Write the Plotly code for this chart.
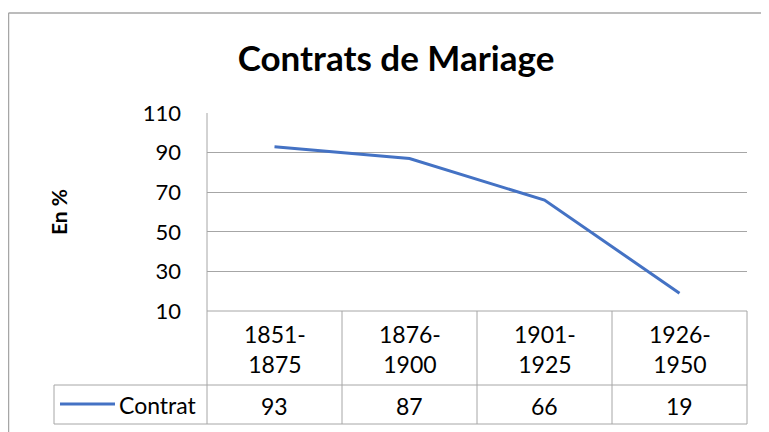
import plotly.graph_objects as go

categories = ["1851-1875", "1876-1900", "1901-1925", "1926-1950"]
category_labels = ["1851-<br>1875", "1876-<br>1900", "1901-<br>1925", "1926-<br>1950"]
contrat = [93, 87, 66, 19]
series_name = "Contrat"
y_ticks = [10, 30, 50, 70, 90, 110]

# the page body has an 8px margin: lay the figure out in page pixels and shift
OFF = 8
W, H = 769 - OFF, 432 - OFF
FONT = "Lato"
GRID = "#A6A6A6"
BORDER = "#A6A6A6"
BLUE = "#4472C4"

def px(x):
    return (x - OFF) / W

def py(y):
    return 1 - (y - OFF) / H

# plot area in page pixels
L, R, T, B = 207, 747, 113, 311
ROW1 = 385
ROW2 = 424
LEG_L = 54

fig = go.Figure()
fig.add_trace(go.Scatter(
    x=list(range(len(categories))), y=contrat, mode="lines",
    name=series_name, line=dict(color=BLUE, width=3),
    showlegend=False, hoverinfo="skip"))

fig.update_layout(
    width=W, height=H,
    margin=dict(l=0, r=0, t=0, b=0, autoexpand=False),
    paper_bgcolor="white", plot_bgcolor="white",
    font=dict(family=FONT, color="#000000"),
    title=dict(text="<b>Contrats de Mariage</b>", x=px(396), xanchor="center",
               y=py(59), yanchor="middle", font=dict(size=35, family=FONT, color="#000")),
    xaxis=dict(domain=[px(L), px(R)], range=[-0.5, len(categories) - 0.5],
               showticklabels=False, showgrid=False, zeroline=False, showline=False,
               fixedrange=True, automargin=False),
    yaxis=dict(domain=[py(B), py(T)], range=[10, 110], tickvals=y_ticks,
               showgrid=True, gridcolor=GRID, gridwidth=1, zeroline=False,
               showline=False, ticks="", ticklabelstandoff=25, automargin=False,
               tickfont=dict(size=22, family=FONT, color="#000")),
)

shapes = []
def line(x0, y0, x1, y1, color=GRID, width=1):
    shapes.append(dict(type="line", xref="paper", yref="paper",
                       x0=px(x0), y0=py(y0), x1=px(x1), y1=py(y1),
                       line=dict(color=color, width=width)))

# chart border (top and left visible)
line(OFF + 0.5, 13, 769, 13, BORDER, 1.5)
line(OFF + 0.5, 13, OFF + 0.5, 432, BORDER, 1.5)
# y axis line down through table
line(L, T, L, ROW2)
# table
line(L, B, R, B)
line(LEG_L, ROW1, R, ROW1)
line(LEG_L, ROW2, R, ROW2)
line(LEG_L, ROW1, LEG_L, ROW2)
line(R, B, R, ROW2)
n = len(categories)
colw = (R - L) / n
for i in range(1, n):
    line(L + i * colw, B, L + i * colw, ROW2)
# legend key
line(60, 404, 115, 404, BLUE, 3)

TF = dict(size=23, family=FONT, color="#000")
annotations = []
for i, (lab, v) in enumerate(zip(category_labels, contrat)):
    annotations.append(dict(x=i, xref="x", y=py((B + ROW1) / 2 + 1), yref="paper",
                            text=lab, showarrow=False, align="center", font=TF,
                            xanchor="center", yanchor="middle"))
    annotations.append(dict(x=i, xref="x", y=py((ROW1 + ROW2) / 2 + 1), yref="paper",
                            text=str(v), showarrow=False, font=TF,
                            xanchor="center", yanchor="middle"))
annotations.append(dict(x=px(117), xref="paper", y=py(405), yref="paper",
                        text=series_name, showarrow=False, xanchor="left", yanchor="middle",
                        font=TF))
annotations.append(dict(x=px(58), xref="paper", y=py(212), yref="paper",
                        text="<b>En %</b>", showarrow=False, textangle=-90,
                        xanchor="center", yanchor="middle",
                        font=dict(size=21, family=FONT, color="#000")))

fig.update_layout(shapes=shapes, annotations=annotations)
fig.write_html("out.html")
